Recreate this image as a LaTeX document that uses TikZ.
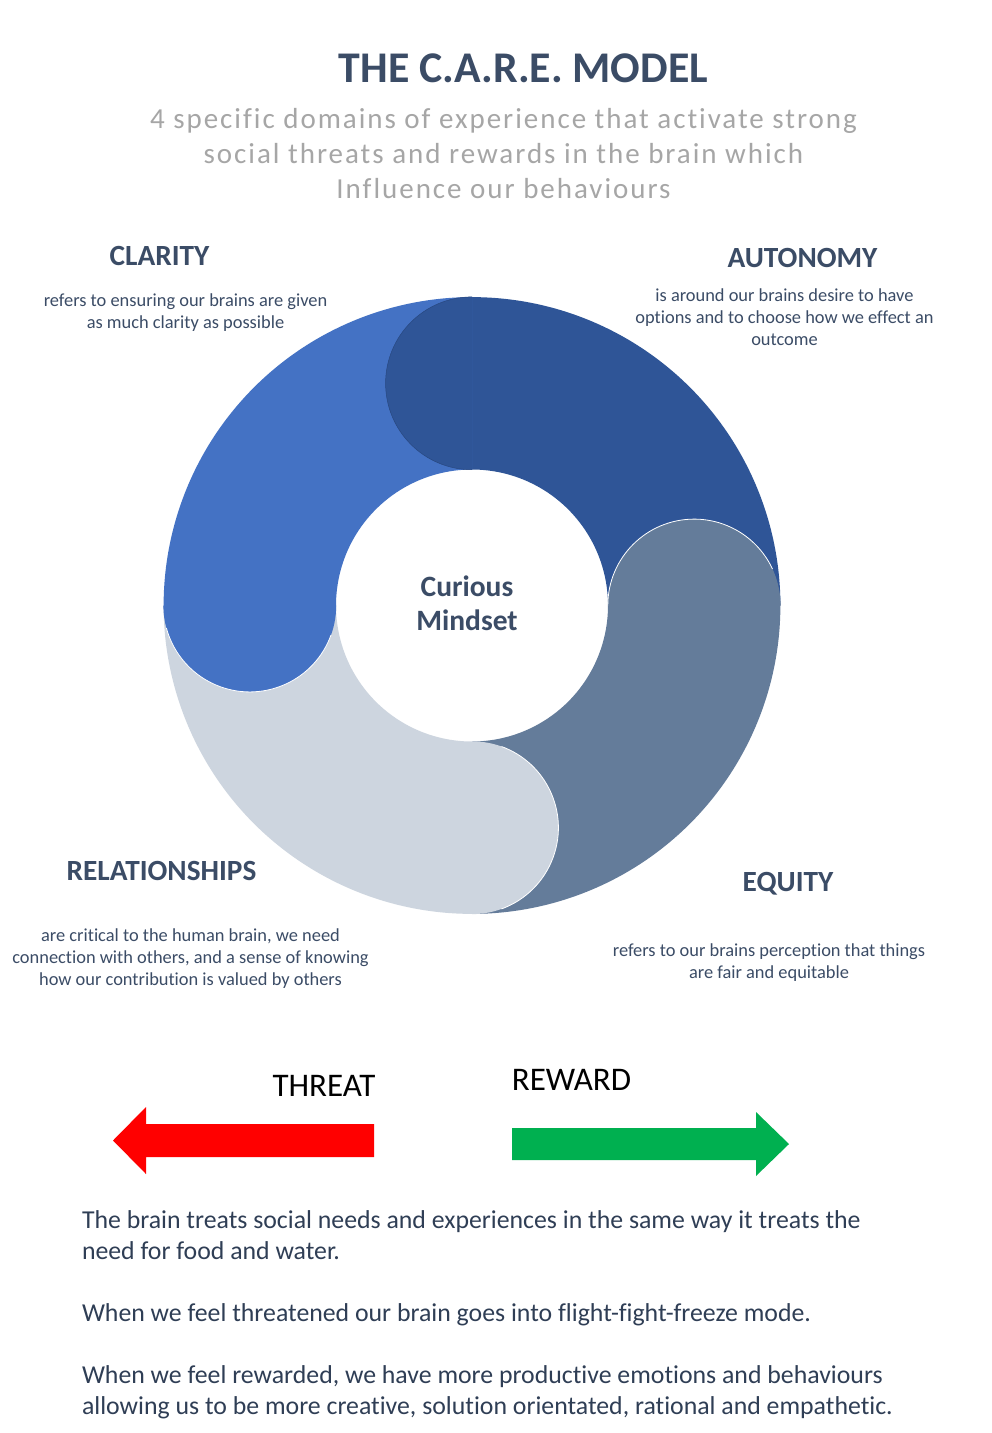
\documentclass[tikz,border=0pt]{standalone}
\usepackage{fontspec}
\usetikzlibrary{calc}
\setmainfont[Ligatures=NoCommon]{Carlito}
\newfontfamily\spacedfont[LetterSpace=6.8,Ligatures=NoCommon]{Carlito}
\definecolor{cdark}{HTML}{2F5597}
\definecolor{cblue}{HTML}{4472C4}
\definecolor{csteel}{HTML}{647C9A}
\definecolor{cgrey}{HTML}{CDD5DF}
\definecolor{cink}{HTML}{3B4C66}
\definecolor{csub}{HTML}{A6A6A6}
\definecolor{cbody}{HTML}{2F3E55}
\definecolor{cgreen}{HTML}{00B050}
\tikzset{
  every node/.style={inner sep=0pt,outer sep=0pt},
  titletext/.style={text=cink,font=\bfseries\fontsize{43.8}{48}\selectfont},
  subtext/.style={text=csub,align=center,font=\spacedfont\fontsize{29}{35}\selectfont},
  headtext/.style={text=cink,font=\bfseries\fontsize{29.3}{32}\selectfont},
  smalltext/.style={text=cink,align=center,font=\fontsize{18.4}{22}\selectfont},
  centertext/.style={text=cink,align=center,font=\bfseries\fontsize{29.5}{34}\selectfont},
  signtext/.style={text=black,font=\fontsize{33}{36}\selectfont},
  bodytext/.style={text=cbody,align=left,anchor=north west,font=\fontsize{25.8}{31}\selectfont},
  capline/.style={white,line width=.8pt},
}
\begin{document}
\begin{tikzpicture}[x=1pt,y=-1pt]
\useasboundingbox (0,0) rectangle (992,1433);
\fill[white] (0,0) rectangle (992,1433);
\coordinate (c) at (472,605.5);
\coordinate (capd) at ($(c)+(-90:222.2)$);
\coordinate (caps) at ($(c)+(0:222.2)$);
\coordinate (capg) at ($(c)+(90:222.2)$);
\coordinate (capb) at ($(c)+(180:222.2)$);
% ring bodies, each reaching a little under its own cap
\fill[cdark] ($(c)+(-90.4:308.4)$) arc[start angle=-90.4,end angle=0,radius=308.4]
   -- ($(c)+(0:136)$) arc[start angle=0,end angle=-90.4,radius=136] -- cycle;
\fill[csteel] ($(c)+(-0.4:308.4)$) arc[start angle=-0.4,end angle=90,radius=308.4]
   -- ($(c)+(90:136)$) arc[start angle=90,end angle=-0.4,radius=136] -- cycle;
\fill[cgrey] ($(c)+(89.6:308.4)$) arc[start angle=89.6,end angle=180,radius=308.4]
   -- ($(c)+(180:136)$) arc[start angle=180,end angle=89.6,radius=136] -- cycle;
\fill[cblue] ($(c)+(179.6:308.4)$) arc[start angle=179.6,end angle=270,radius=308.4]
   -- ($(c)+(270:136)$) arc[start angle=270,end angle=179.6,radius=136] -- cycle;
% round caps: half discs on the counter-clockwise side, outline on the curve only
\fill[cdark] ($(capd)+(90:86.4)$) arc[start angle=90,end angle=270,radius=86.4] -- cycle;
\draw[cdark!85!black,line width=.5pt] ($(capd)+(90:86.4)$) arc[start angle=90,end angle=270,radius=86.4];
\fill[csteel] ($(caps)+(180:86.4)$) arc[start angle=180,end angle=360,radius=86.4] -- cycle;
\draw[capline] ($(caps)+(180:86.4)$) arc[start angle=180,end angle=335,radius=86.4];
\fill[cgrey] ($(capg)+(270:86.4)$) arc[start angle=270,end angle=450,radius=86.4] -- cycle;
\draw[capline] ($(capg)+(290:86.4)$) arc[start angle=290,end angle=430,radius=86.4];
\fill[cblue] ($(capb)+(0:86.4)$) arc[start angle=0,end angle=180,radius=86.4] -- cycle;
\draw[capline] ($(capb)+(20:86.4)$) arc[start angle=20,end angle=165,radius=86.4];
% arrows
\fill[red] (113,1140.5) -- (146,1107) -- (146,1124) -- (374,1124) -- (374,1157) -- (146,1157) -- (146,1174) -- cycle;
\fill[cgreen] (789,1144) -- (756,1112) -- (756,1128) -- (512,1128) -- (512,1160) -- (756,1160) -- (756,1176) -- cycle;
% texts
\node[titletext] (title) at (523.5,68) {THE C.A.R.E. MODEL};
\node[subtext] (subtitle) at (503.5,153.5) {4 specific domains of experience that activate strong\\social threats and rewards in the brain which\\Influence our behaviours};
\node[headtext] (clarity) at (159.5,256) {CLARITY};
\node[smalltext] (claritytext) at (185.5,313) {refers to ensuring our brains are given\\as much clarity as possible};
\node[headtext] (autonomy) at (802.5,258) {AUTONOMY};
\node[smalltext] (autonomytext) at (784.5,317) {is around our brains desire to have\\options and to choose how we effect an\\outcome};
\node[headtext] (relationships) at (161.5,871) {RELATIONSHIPS};
\node[smalltext] (relationshipstext) at (190.5,959) {are critical to the human brain, we need\\connection with others, and a sense of knowing\\how our contribution is valued by others};
\node[headtext] (equity) at (788,884) {EQUITY};
\node[smalltext] (equitytext) at (769,963) {refers to our brains perception that things\\are fair and equitable};
\node[centertext] (mindset) at (467,603.5) {Curious\\Mindset};
\node[signtext] (threat) at (324,1086) {THREAT};
\node[signtext] (reward) at (571.5,1079.5) {REWARD};
\node[bodytext] (body) at (82,1211) {The brain treats social needs and experiences in the same way it treats the\\need for food and water.\\[31pt]When we feel threatened our brain goes into flight-fight-freeze mode.\\[31pt]When we feel rewarded, we have more productive emotions and behaviours\\allowing us to be more creative, solution orientated, rational and empathetic.};
\end{tikzpicture}
\end{document}
